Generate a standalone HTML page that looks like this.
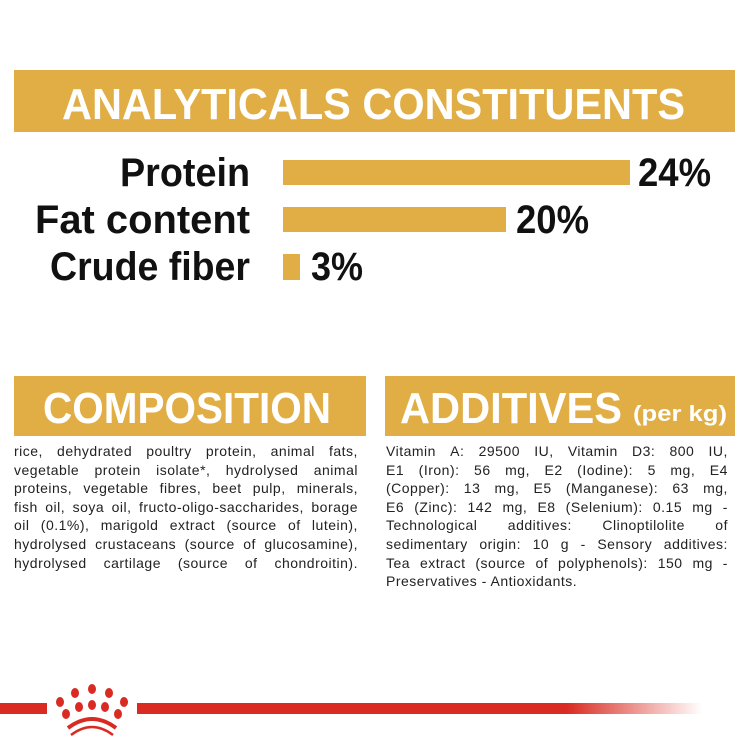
<!DOCTYPE html>
<html><head><meta charset="utf-8"><style>
*{margin:0;padding:0;box-sizing:border-box}
body{width:750px;height:750px;background:#fff;position:relative;overflow:hidden;font-family:"Liberation Sans",sans-serif}
.g{position:absolute;background:#e0ae44}
.t{position:absolute;font-size:14px;letter-spacing:0.5px;color:#222;line-height:18.6px}
.t div{white-space:nowrap;display:flex;justify-content:space-between}
</style></head><body>
<div class="g" style="left:14px;top:70px;width:721px;height:62px"></div>
<div class="g" style="left:283px;top:160px;width:347px;height:25px"></div>
<div class="g" style="left:283px;top:207px;width:223px;height:25px"></div>
<div class="g" style="left:283px;top:254px;width:17px;height:26px"></div>
<div class="g" style="left:14px;top:376px;width:352px;height:60px"></div>
<div class="g" style="left:385px;top:376px;width:350px;height:60px"></div>
<svg style="position:absolute;left:0;top:0" width="750" height="750" font-family="'Liberation Sans',sans-serif" font-weight="bold">
<text x="62" y="119" font-size="44" fill="#fff" textLength="623" lengthAdjust="spacingAndGlyphs">ANALYTICALS CONSTITUENTS</text>
<text x="120" y="186" font-size="40" fill="#111" textLength="130" lengthAdjust="spacingAndGlyphs">Protein</text>
<text x="35" y="233" font-size="40" fill="#111" textLength="215" lengthAdjust="spacingAndGlyphs">Fat content</text>
<text x="50" y="280" font-size="40" fill="#111" textLength="200" lengthAdjust="spacingAndGlyphs">Crude fiber</text>
<text x="638" y="186" font-size="40" fill="#111" textLength="73" lengthAdjust="spacingAndGlyphs">24%</text>
<text x="516" y="233" font-size="40" fill="#111" textLength="73" lengthAdjust="spacingAndGlyphs">20%</text>
<text x="311" y="280" font-size="40" fill="#111" textLength="52" lengthAdjust="spacingAndGlyphs">3%</text>
<text x="43" y="423" font-size="44" fill="#fff" textLength="288" lengthAdjust="spacingAndGlyphs">COMPOSITION</text>
<text x="400" y="423" font-size="44" fill="#fff" textLength="222" lengthAdjust="spacingAndGlyphs">ADDITIVES</text>
<text x="633" y="421" font-size="22" fill="#fff" textLength="94" lengthAdjust="spacingAndGlyphs">(per kg)</text>
<defs><linearGradient id="rg" x1="0" x2="1"><stop offset="0" stop-color="#d92b22"/><stop offset="0.76" stop-color="#d92b22"/><stop offset="1" stop-color="#d92b22" stop-opacity="0"/></linearGradient></defs>
<rect x="0" y="703" width="47" height="11" fill="#d92b22"/>
<rect x="137" y="703" width="565" height="11" fill="url(#rg)"/>
<g fill="#d92b22">
<ellipse cx="60" cy="702" rx="4" ry="5"/><ellipse cx="75" cy="693" rx="4" ry="5"/><ellipse cx="92" cy="689" rx="4" ry="5"/><ellipse cx="109" cy="693" rx="4" ry="5"/><ellipse cx="124" cy="702" rx="4" ry="5"/>
<ellipse cx="66" cy="714" rx="4" ry="5"/><ellipse cx="79" cy="707" rx="4" ry="5"/><ellipse cx="92" cy="705" rx="4" ry="5"/><ellipse cx="105" cy="707" rx="4" ry="5"/><ellipse cx="118" cy="714" rx="4" ry="5"/>
</g>
<path d="M68 728 Q92 710 116 728" stroke="#d92b22" stroke-width="4" fill="none"/>
<path d="M71 735 Q92 719 113 735" stroke="#d92b22" stroke-width="2.5" fill="none"/>
</svg>
<div class="t" style="left:14px;top:442px;width:344px">
<div><span>rice,</span><span>dehydrated</span><span>poultry</span><span>protein,</span><span>animal</span><span>fats,</span></div>
<div><span>vegetable</span><span>protein</span><span>isolate*,</span><span>hydrolysed</span><span>animal</span></div>
<div><span>proteins,</span><span>vegetable</span><span>fibres,</span><span>beet</span><span>pulp,</span><span>minerals,</span></div>
<div><span>fish</span><span>oil,</span><span>soya</span><span>oil,</span><span>fructo-oligo-saccharides,</span><span>borage</span></div>
<div><span>oil</span><span>(0.1%),</span><span>marigold</span><span>extract</span><span>(source</span><span>of</span><span>lutein),</span></div>
<div><span>hydrolysed</span><span>crustaceans</span><span>(source</span><span>of</span><span>glucosamine),</span></div>
<div><span>hydrolysed</span><span>cartilage</span><span>(source</span><span>of</span><span>chondroitin).</span></div>
</div>
<div class="t" style="left:386px;top:442px;width:342px">
<div><span>Vitamin</span><span>A:</span><span>29500</span><span>IU,</span><span>Vitamin</span><span>D3:</span><span>800</span><span>IU,</span></div>
<div><span>E1</span><span>(Iron):</span><span>56</span><span>mg,</span><span>E2</span><span>(Iodine):</span><span>5</span><span>mg,</span><span>E4</span></div>
<div><span>(Copper):</span><span>13</span><span>mg,</span><span>E5</span><span>(Manganese):</span><span>63</span><span>mg,</span></div>
<div><span>E6</span><span>(Zinc):</span><span>142</span><span>mg,</span><span>E8</span><span>(Selenium):</span><span>0.15</span><span>mg</span><span>-</span></div>
<div><span>Technological</span><span>additives:</span><span>Clinoptilolite</span><span>of</span></div>
<div><span>sedimentary</span><span>origin:</span><span>10</span><span>g</span><span>-</span><span>Sensory</span><span>additives:</span></div>
<div><span>Tea</span><span>extract</span><span>(source</span><span>of</span><span>polyphenols):</span><span>150</span><span>mg</span><span>-</span></div>
<div style="display:block">Preservatives - Antioxidants.</div>
</div>
</body></html>
